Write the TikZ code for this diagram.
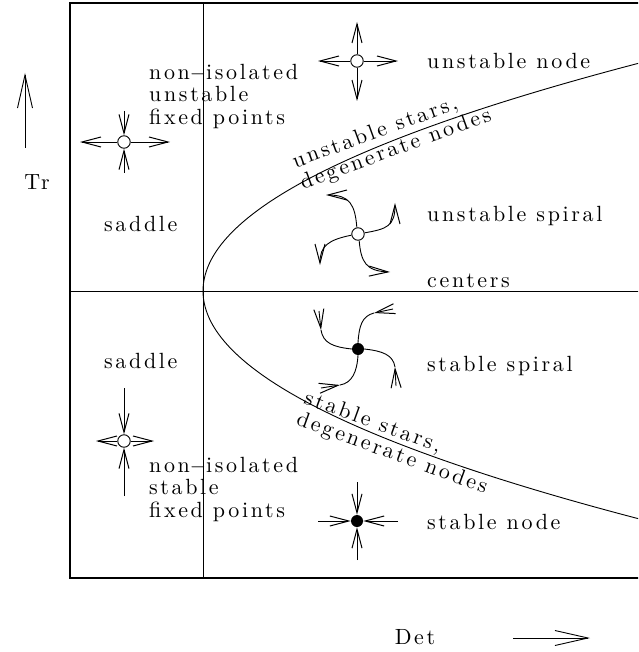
\documentclass[tikz,border=0pt]{standalone}
\usepackage{fontspec}
\usetikzlibrary{arrows.meta}
\newfontfamily\lblfam{lmroman10-regular.otf}[LetterSpace=12]
\newcommand{\lblfont}{\lblfam\fontsize{22}{22.7}\selectfont}
\begin{document}
\begin{tikzpicture}[x=1pt,y=-1pt,
  lbl/.style={font=\lblfont, inner sep=0pt, anchor=base west},
  blk/.style={font=\lblfont, inner sep=0pt, anchor=north west, align=left},
  ln/.style={line width=0.9pt},
  barb/.style={-{Straight Barb[length=19pt,width=10pt,line width=1pt]}},
  bigbarb/.style={-{Straight Barb[length=33pt,width=15pt,line width=0.9pt]}},
  opt/.style={circle, draw, fill=white, minimum size=12.5pt, inner sep=0pt, line width=0.9pt},
  fpt/.style={circle, fill=black, minimum size=12pt, inner sep=0pt},
]
\useasboundingbox (0,0) rectangle (638,652);
\clip (0,0) rectangle (638,652);
% frame and axes
\draw[line width=1.6pt] (70,3) rectangle (660,578);
\coordinate (vt) at (203,3);
\coordinate (vb) at (203,578);
\coordinate (hl) at (70,291);
\coordinate (hr) at (660,291);
\draw[ln] (vt) -- (vb);
\draw[ln] (hl) -- (hr);
\draw[ln] plot[domain=-240:240, samples=121, smooth] ({203+(0.0916515*\x)*(0.0916515*\x)},{291+\x});

% axis labels
\coordinate (tra) at (25,148);
\coordinate (trb) at (25,73);
\draw[ln,bigbarb] (tra) -- (trb);
\node[font=\lblfont, inner sep=0pt] (tr) at (37,182) {Tr};
\coordinate (dta) at (513,638);
\coordinate (dtb) at (590,638);
\draw[ln,bigbarb] (dta) -- (dtb);
\node[font=\lblfont, inner sep=0pt] (det) at (415,637) {Det};

% region labels
\node[lbl] (l1) at (427,68.5) {unstable node};
\node[lbl] (l2) at (427,221) {unstable spiral};
\node[lbl] (l3) at (427,287) {centers};
\node[lbl] (l4) at (427,371) {stable spiral};
\node[lbl] (l5) at (427,529) {stable node};
\node[lbl] (l6) at (104,231) {saddle};
\node[lbl] (l7) at (104,368) {saddle};
\node[blk] (l8) at (149,63.7) {non$-$isolated\\unstable\\fixed points};
\node[blk] (l9) at (149,456.7) {non$-$isolated\\stable\\fixed points};
\node[blk, rotate=20] (l10) at (289.8,153.6) {unstable stars,\\degenerate nodes};
\node[blk, rotate=-20] (l11) at (308.2,388.6) {stable stars,\\degenerate nodes};

% unstable node
\node[opt] (un) at (357,61) {};
\coordinate (unN) at (357,22);
\coordinate (unS) at (357,101);
\coordinate (unW) at (318,61);
\coordinate (unE) at (398,61);
\draw[ln,barb] (un) -- (unN);
\draw[ln,barb] (un) -- (unS);
\draw[ln,barb] (un) -- (unW);
\draw[ln,barb] (un) -- (unE);

% upper saddle
\node[opt] (s1) at (124,142) {};
\coordinate (s1W) at (80,142);
\coordinate (s1E) at (170,142);
\coordinate (s1N) at (124,111);
\coordinate (s1S) at (124,173);
\draw[ln,barb] (s1) -- (s1W);
\draw[ln,barb] (s1) -- (s1E);
\draw[ln,barb] (s1N) -- (s1);
\draw[ln,barb] (s1S) -- (s1);

% lower saddle
\node[opt] (s2) at (124,441) {};
\coordinate (s2W) at (96,441);
\coordinate (s2E) at (154,441);
\coordinate (s2N) at (124,388);
\coordinate (s2S) at (124,496);
\draw[ln,barb] (s2) -- (s2W);
\draw[ln,barb] (s2) -- (s2E);
\draw[ln,barb] (s2N) -- (s2);
\draw[ln,barb] (s2S) -- (s2);

% stable node
\node[fpt] (sn) at (357,521) {};
\coordinate (snN) at (357,482);
\coordinate (snS) at (357,560);
\coordinate (snW) at (318,521);
\coordinate (snE) at (398,521);
\draw[ln,barb] (snN) -- (sn);
\draw[ln,barb] (snS) -- (sn);
\draw[ln,barb] (snW) -- (sn);
\draw[ln,barb] (snE) -- (sn);

% unstable spiral
\node[opt] (us) at (358,234) {};
\coordinate (us1) at (326,195);
\coordinate (us2) at (395,203);
\coordinate (us3) at (320,265);
\coordinate (us4) at (390,272);
\draw[ln,barb] (us.100) .. controls (355,205) and (350,195) .. (us1);
\draw[ln,barb] (us.10) .. controls (387,229) and (395,226) .. (us2);
\draw[ln,barb] (us.190) .. controls (328,240) and (320,246) .. (us3);
\draw[ln,barb] (us.280) .. controls (361,262) and (366,271) .. (us4);

% stable spiral
\node[fpt] (ss) at (358,349) {};
\coordinate (ss1a) at (319,311);
\coordinate (ss1b) at (321,330);
\coordinate (ss2a) at (393,309);
\coordinate (ss2b) at (374,313);
\coordinate (ss3a) at (396,386);
\coordinate (ss3b) at (395,367);
\coordinate (ss4a) at (321,388);
\coordinate (ss4b) at (340,385);
\draw[ln,barb] (ss1a) -- (ss1b);
\draw[ln] (ss1b) .. controls (323,343) and (333,347) .. (ss.180);
\draw[ln,barb] (ss2a) -- (ss2b);
\draw[ln] (ss2b) .. controls (362,316) and (359,326) .. (ss.90);
\draw[ln,barb] (ss3a) -- (ss3b);
\draw[ln] (ss3b) .. controls (393,355) and (383,351) .. (ss.0);
\draw[ln,barb] (ss4a) -- (ss4b);
\draw[ln] (ss4b) .. controls (352,383) and (357,372) .. (ss.270);
\end{tikzpicture}
\end{document}
